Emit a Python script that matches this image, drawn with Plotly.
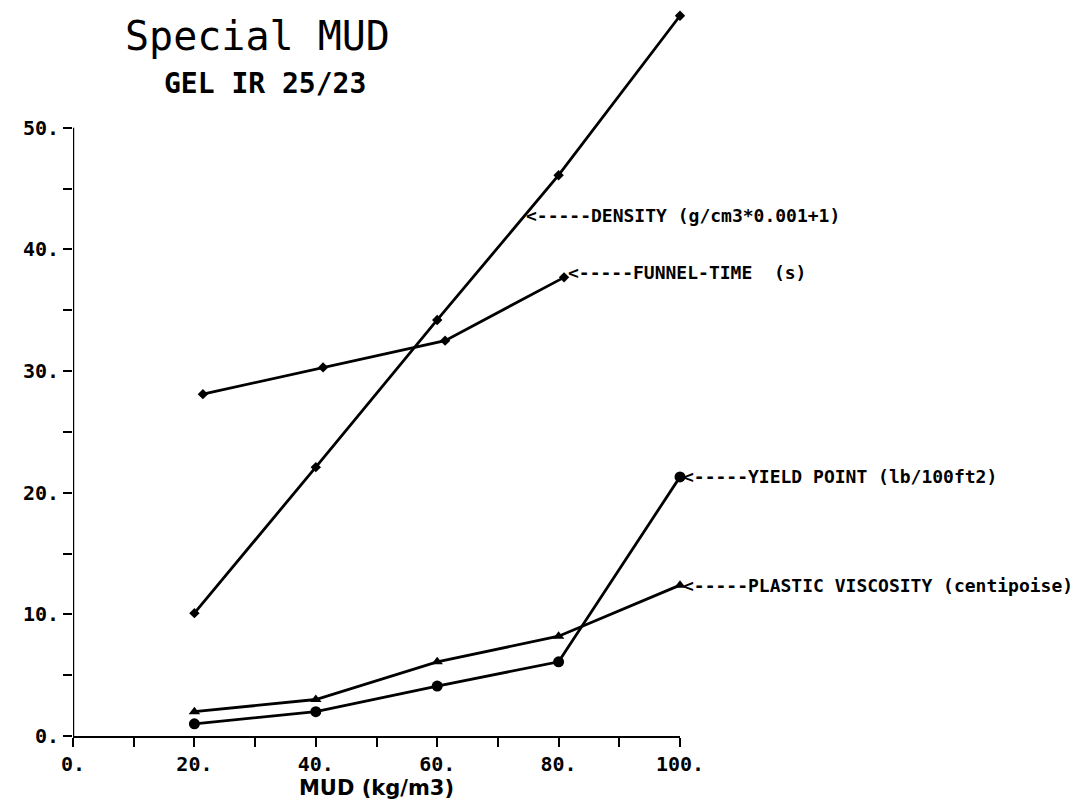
import plotly.graph_objects as go

# ---- data ----
mud_x = [20, 40, 60, 80, 100]
funnel_x = [21.4, 41.2, 61.3, 80.9]

density = [10.1, 22.1, 34.2, 46.1, 59.2]
funnel_time = [28.1, 30.3, 32.5, 37.7]
yield_point = [1.0, 2.0, 4.1, 6.1, 21.3]
plastic_visc = [2.0, 3.0, 6.1, 8.2, 12.4]

x_tickvals = [0, 10, 20, 30, 40, 50, 60, 70, 80, 90, 100]
x_ticktext = ["0.", "", "20.", "", "40.", "", "60.", "", "80.", "", "100."]
y_tickvals = [0, 5, 10, 15, 20, 25, 30, 35, 40, 45, 50]
y_ticktext = ["0.", "", "10.", "", "20.", "", "30.", "", "40.", "", "50."]

labels = [
    # text, x, y
    ("<-----DENSITY (g/cm3*0.001+1)", 74.3, 42.8),
    ("<-----FUNNEL-TIME  (s)", 81.2, 38.1),
    ("<-----YIELD POINT (lb/100ft2)", 100.2, 21.3),
    ("<-----PLASTIC VISCOSITY (centipoise)", 100.2, 12.4),
]

X_RANGE = [0, 100]
Y_RANGE = [0, 60.5]

W, H = 1086, 807
pl, pr, pt, pb = 73, 406, 0, 71
pw, ph = W - pl - pr, H - pt - pb


def px(xp):
    return (xp - pl) / pw


def py(yp):
    return (H - pb - yp) / ph


LINE = dict(color="black", width=2.8)
fig = go.Figure()
fig.add_trace(go.Scatter(x=mud_x, y=density, mode="lines+markers", line=LINE,
                         marker=dict(symbol="diamond", size=8, color="black"),
                         cliponaxis=False))
fig.add_trace(go.Scatter(x=funnel_x, y=funnel_time, mode="lines+markers", line=LINE,
                         marker=dict(symbol="diamond", size=8, color="black"),
                         cliponaxis=False))
fig.add_trace(go.Scatter(x=mud_x, y=yield_point, mode="lines+markers", line=LINE,
                         marker=dict(symbol="circle", size=11, color="black"),
                         cliponaxis=False))
fig.add_trace(go.Scatter(x=mud_x, y=plastic_visc, mode="lines+markers", line=LINE,
                         marker=dict(symbol="triangle-up", size=10, color="black"),
                         cliponaxis=False))

for text, x, y in labels:
    fig.add_annotation(x=(x - X_RANGE[0]) / (X_RANGE[1] - X_RANGE[0]),
                       y=(y - Y_RANGE[0]) / (Y_RANGE[1] - Y_RANGE[0]),
                       xref="paper", yref="paper", text=text, showarrow=False,
                       xanchor="left", yanchor="middle",
                       font=dict(family="DejaVu Sans Mono", size=18, color="black", weight="bold"))

# y axis line only from 0 to 50
fig.add_shape(type="line", xref="x", yref="y", x0=0, x1=0, y0=0, y1=50,
              line=dict(color="black", width=2.4))

fig.add_annotation(x=px(257), y=py(36), xref="paper", yref="paper", text="Special MUD",
                   showarrow=False, xanchor="center", yanchor="middle",
                   font=dict(family="DejaVu Sans Mono", size=40, color="black"))
fig.add_annotation(x=px(265), y=py(84), xref="paper", yref="paper", text="GEL IR 25/23",
                   showarrow=False, xanchor="center", yanchor="middle",
                   font=dict(family="DejaVu Sans Mono", size=28, color="black", weight="bold"))

fig.update_layout(
    width=W, height=H,
    margin=dict(l=pl, r=pr, t=pt, b=pb),
    paper_bgcolor="white", plot_bgcolor="white",
    showlegend=False,
    xaxis=dict(range=X_RANGE, tickvals=x_tickvals, ticktext=x_ticktext,
               showline=True, linecolor="black", linewidth=2.4,
               ticks="outside", ticklen=9, tickwidth=2.2, tickcolor="black",
               showgrid=False, zeroline=False,
               tickfont=dict(family="DejaVu Sans Mono", size=20, color="black", weight="bold"),
               title=dict(text="MUD (kg/m3)", standoff=4,
                          font=dict(family="DejaVu Sans", size=21, color="black", weight="bold"))),
    yaxis=dict(range=Y_RANGE, tickvals=y_tickvals, ticktext=y_ticktext,
               showline=False, ticks="outside", ticklen=9, tickwidth=2.2, tickcolor="black",
               showgrid=False, zeroline=False,
               tickfont=dict(family="DejaVu Sans Mono", size=20, color="black", weight="bold")),
)

fig.write_html("out.html")
